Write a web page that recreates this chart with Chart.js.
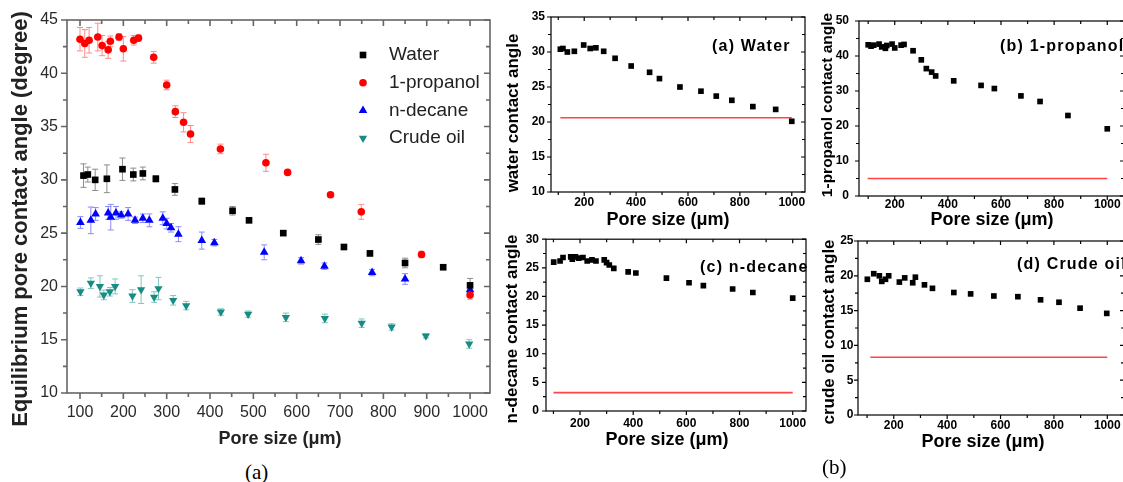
<!DOCTYPE html>
<html>
<head>
<meta charset="utf-8">
<script src="https://cdn.jsdelivr.net/npm/chart.js"></script>
<style>
html,body{margin:0;padding:0;background:#fff;}
body{width:1123px;height:482px;overflow:hidden;position:relative;}
canvas{position:absolute;}
.cap{position:absolute;font-family:'Liberation Serif','Times New Roman',serif;font-size:21px;line-height:24px;color:#000;white-space:nowrap;}
</style>
</head>
<body>
<canvas id="main" width="500" height="460" style="left:0;top:0"></canvas>
<canvas id="pa" width="315" height="235" style="left:500px;top:0"></canvas>
<canvas id="pb" width="320" height="235" style="left:815px;top:0"></canvas>
<canvas id="pc" width="315" height="235" style="left:500px;top:225px"></canvas>
<canvas id="pd" width="320" height="235" style="left:815px;top:225px"></canvas>
<div class="cap" style="left:245px;top:460px">(a)</div>
<div class="cap" style="left:822px;top:455px">(b)</div>
<script>
// data (pore size in um, angle in degree)
const waterX = [108, 118, 135, 162, 198, 223, 245, 275, 319, 381, 452, 490, 569, 650, 709, 769, 850, 938, 1000]
const waterY = [30.4, 30.5, 30.0, 30.1, 31.0, 30.5, 30.6, 30.1, 29.1, 28.0, 27.1, 26.2, 25.0, 24.4, 23.7, 23.1, 22.2, 21.8, 20.1]
const waterErr = [1.1, 0.7, 1.0, 1.3, 1.05, 0.6, 0.6, 0.3, 0.55, 0.3, 0.4, 0.2, 0.2, 0.45, 0.2, 0.25, 0.45, 0.2, 0.65]

const propX = [100, 111, 121, 141, 151, 165, 170, 190, 200, 224, 235, 270, 300, 320, 339, 355, 424, 529, 579, 678, 749, 888, 1000]
const propY = [43.2, 42.8, 43.1, 43.4, 42.6, 42.2, 43.0, 43.4, 42.3, 43.1, 43.3, 41.5, 38.9, 36.4, 35.4, 34.3, 32.9, 31.6, 30.7, 28.6, 27.0, 23.0, 19.2]
const propErr = [1.1, 1.3, 1.2, 1.3, 0.95, 0.8, 0.5, 0.3, 1.15, 0.45, 0.3, 0.55, 0.45, 0.55, 0.9, 0.8, 0.45, 0.8, 0.2, 0.2, 0.7, 0.3, 0.4]
const propPanelX = [100, 111, 121, 141, 151, 165, 170, 190, 200, 224, 235, 269, 300, 319, 339, 354, 422, 525, 575, 675, 747, 852, 1000]

const decX = [101, 125, 136, 165, 171, 183, 195, 211, 227, 245, 260, 291, 300, 310, 327, 381, 410, 525, 610, 664, 774, 850, 1000]
const decY = [26.0, 26.2, 26.8, 26.9, 26.5, 26.9, 26.7, 26.8, 26.2, 26.4, 26.2, 26.4, 25.9, 25.5, 24.9, 24.3, 24.1, 23.2, 22.4, 21.9, 21.3, 20.7, 19.7]
const decErr = [0.55, 1.25, 0.6, 0.6, 1.2, 0.6, 0.3, 0.6, 0.3, 0.4, 0.6, 0.6, 0.5, 0.4, 0.7, 0.8, 0.3, 0.7, 0.3, 0.3, 0.3, 0.5, 0.4]

const crudeX = [101, 125, 146, 155, 169, 181, 221, 241, 271, 281, 315, 345, 425, 488, 575, 665, 750, 819, 898, 998]
const crudeY = [19.5, 20.3, 20.0, 19.2, 19.5, 20.0, 19.1, 19.7, 19.0, 19.8, 18.7, 18.2, 17.6, 17.4, 17.1, 17.0, 16.55, 16.2, 15.35, 14.6]
const crudeErr = [0.35, 0.5, 1.0, 0.45, 0.4, 0.7, 0.6, 1.3, 0.5, 1.05, 0.45, 0.4, 0.3, 0.3, 0.4, 0.4, 0.4, 0.3, 0.2, 0.4]

// red reference levels of the small panels
const refWater = 20.6, refProp = 5.0, refDec = 3.2, refCrude = 8.3
const waterRefX = [108, 1000], propRefX = [98, 1000], decRefX = [100, 1000], crudeRefX = [112, 1000]

const mainXTicks = [100, 200, 300, 400, 500, 600, 700, 800, 900, 1000]
const mainYTicks = [10, 15, 20, 25, 30, 35, 40, 45]
const panelXTicks = [200, 400, 600, 800, 1000]
const waterYTicks = [10, 15, 20, 25, 30, 35]
const propYTicks = [0, 10, 20, 30, 40, 50]
const decYTicks = [0, 5, 10, 15, 20, 25, 30]
const crudeYTicks = [0, 5, 10, 15, 20, 25]

const SANS = "'Liberation Sans', Arial, sans-serif"
const toPts = (xs, ys) => xs.map((x, i) => ({x: x, y: ys[i]}))

// axis frame with ticks: outward on bottom/left, inward on top/right
const frame = {
  id: 'frame',
  afterDatasetsDraw(chart, args, o) {
    const {ctx, chartArea: a, scales: {x, y}} = chart
    ctx.save()
    ctx.strokeStyle = o.color
    ctx.lineWidth = o.width
    ctx.beginPath()
    const isMajor = (s, v) => s.ticks.some(t => Math.abs(t.value - v) < 1e-6)
    for (let v = Math.ceil(x.min / o.xMinor) * o.xMinor; v <= x.max + 1e-6; v += o.xMinor) {
      const px = x.getPixelForValue(v)
      const len = isMajor(x, v) ? o.major : o.minor
      ctx.moveTo(px, a.bottom); ctx.lineTo(px, a.bottom + len)
      ctx.moveTo(px, a.top); ctx.lineTo(px, a.top + len)
    }
    for (let v = Math.ceil(y.min / o.yMinor) * o.yMinor; v <= y.max + 1e-6; v += o.yMinor) {
      const py = y.getPixelForValue(v)
      const len = isMajor(y, v) ? o.major : o.minor
      ctx.moveTo(a.left, py); ctx.lineTo(a.left - len, py)
      ctx.moveTo(a.right, py); ctx.lineTo(a.right - len, py)
    }
    ctx.stroke()
    ctx.strokeRect(a.left, a.top, a.right - a.left, a.bottom - a.top)
    ctx.restore()
  }
}

const errBars = {
  id: 'errBars',
  beforeDatasetsDraw(chart) {
    const {ctx, scales: {x, y}} = chart
    chart.data.datasets.forEach(ds => {
      if (!ds.errors) return
      ctx.save()
      ctx.strokeStyle = ds.errColor
      ctx.lineWidth = 1
      ctx.beginPath()
      ds.data.forEach((p, i) => {
        const e = ds.errors[i]
        const px = x.getPixelForValue(p.x)
        const t = y.getPixelForValue(p.y + e), b = y.getPixelForValue(p.y - e)
        ctx.moveTo(px, t); ctx.lineTo(px, b)
        ctx.moveTo(px - 3, t); ctx.lineTo(px + 3, t)
        ctx.moveTo(px - 3, b); ctx.lineTo(px + 3, b)
      })
      ctx.stroke()
      ctx.restore()
    })
  }
}

const legendBox = {
  id: 'legendBox',
  afterDraw(chart, args, o) {
    if (!o || !o.show) return
    const ctx = chart.ctx
    ctx.save()
    ctx.font = o.font
    ctx.textBaseline = 'middle'
    chart.data.datasets.forEach((ds, i) => {
      const cy = o.y + i * o.row
      ctx.fillStyle = ds.pointBackgroundColor
      Chart.helpers.drawPoint(ctx, {pointStyle: ds.pointStyle, rotation: ds.pointRotation || 0, radius: ds.pointRadius, borderWidth: 0}, o.x, cy)
      ctx.fillStyle = o.color
      ctx.fillText(ds.label, o.textX, cy)
    })
    ctx.restore()
  }
}

// axis titles and panel label, drawn without width squeezing
const texts = {
  id: 'texts',
  afterDraw(chart, args, o) {
    const ctx = chart.ctx
    ctx.save()
    ctx.fillStyle = o.color
    ctx.textAlign = 'center'
    ctx.textBaseline = 'middle'
    ctx.font = o.xFont
    ctx.fillText('Pore size (μm)', o.xPos[0], o.xPos[1])
    if (o.label) {
      ctx.font = o.label.font
      ctx.textAlign = 'left'
      ctx.letterSpacing = '1.2px'
      ctx.fillText(o.label.text, o.label.pos[0], o.label.pos[1])
      ctx.letterSpacing = '0px'
      ctx.textAlign = 'center'
    }
    ctx.translate(o.yPos[0], o.yPos[1])
    ctx.rotate(-Math.PI / 2)
    ctx.font = o.yFont
    ctx.fillText(o.yText, 0, 0)
    ctx.restore()
  }
}

function makeChart(id, datasets, c) {
  const tickOpts = (pad) => ({autoSkip: false, maxRotation: 0, padding: pad, font: c.tickFont, color: c.tickColor, callback: v => String(v)})
  return new Chart(document.getElementById(id), {
    type: 'scatter',
    data: {datasets: datasets},
    options: {
      responsive: false,
      animation: false,
      devicePixelRatio: 1,
      layout: {padding: {top: c.padTop, right: c.padRight, left: 0, bottom: 0}},
      plugins: {
        legend: {display: false},
        tooltip: {enabled: false},
        frame: c.frame,
        legendBox: c.legend || {show: false},
        texts: c.texts
      },
      scales: {
        x: {
          type: 'linear', min: c.xRange[0], max: c.xRange[1],
          afterBuildTicks: s => { s.ticks = c.xTicks.map(v => ({value: v})) },
          afterFit: s => { s.height = c.xHeight },
          grid: {display: false, drawTicks: false},
          border: {display: false},
          ticks: tickOpts(c.xPad)
        },
        y: {
          type: 'linear', min: c.yRange[0], max: c.yRange[1],
          afterBuildTicks: s => { s.ticks = c.yTicks.map(v => ({value: v})) },
          afterFit: s => { s.width = c.yWidth },
          grid: {display: false, drawTicks: false},
          border: {display: false},
          ticks: tickOpts(c.yPad)
        }
      }
    },
    plugins: [errBars, frame, legendBox, texts]
  })
}

// (a) main chart
makeChart('main', [
  {label: 'Water', data: toPts(waterX, waterY), errors: waterErr, errColor: '#8c8c8c',
   pointStyle: 'rect', pointRadius: 4.7, pointBackgroundColor: '#000', pointBorderWidth: 0},
  {label: '1-propanol', data: toPts(propX, propY), errors: propErr, errColor: '#ff8a8a',
   pointStyle: 'circle', pointRadius: 3.8, pointBackgroundColor: '#ff0000', pointBorderWidth: 0},
  {label: 'n-decane', data: toPts(decX, decY), errors: decErr, errColor: '#8a8aff',
   pointStyle: 'triangle', pointRadius: 5, pointBackgroundColor: '#0000ff', pointBorderWidth: 0},
  {label: 'Crude oil', data: toPts(crudeX, crudeY), errors: crudeErr, errColor: '#84c6c0',
   pointStyle: 'triangle', pointRotation: 180, pointRadius: 4.8, pointBackgroundColor: '#178c84', pointBorderWidth: 0}
], {
  xRange: [70, 1046], yRange: [10, 45], xTicks: mainXTicks, yTicks: mainYTicks,
  padTop: 20, padRight: 10, yWidth: 67, xHeight: 67, xPad: 10, yPad: 9,
  tickFont: {family: SANS, size: 16}, tickColor: '#2a2a2a',
  frame: {color: '#666', width: 1.6, major: 6, minor: 4, xMinor: 50, yMinor: 2.5},
  legend: {show: true, x: 363, textX: 389, y: 55, row: 27.7, font: '19px ' + SANS, color: '#222'},
  texts: {color: '#222', xFont: 'bold 18px ' + SANS, xPos: [280, 439],
          yFont: 'bold 22px ' + SANS, yPos: [20.5, 219], yText: 'Equilibrium pore contact angle (degree)'}
})

// (b) small panels
function panel(id, left, top, xs, ys, refY, refX, c) {
  const ds = [
    {data: toPts(xs, ys), pointStyle: 'rect', pointRadius: 4, pointBackgroundColor: '#000', pointBorderWidth: 0},
    {data: [{x: refX[0], y: refY}, {x: refX[1], y: refY}], showLine: true, pointRadius: 0,
     borderColor: '#ff4545', borderWidth: 1.6}
  ]
  const t = c.texts
  t.xPos = [t.xPos[0] - left, t.xPos[1] - top]
  t.yPos = [t.yPos[0] - left, t.yPos[1] - top]
  t.label.pos = [t.label.pos[0] - left, t.label.pos[1] - top]
  t.color = '#000'
  t.xFont = 'bold 18px ' + SANS
  t.label.font = 'bold 16px ' + SANS
  c.tickFont = {family: SANS, size: 12, weight: 'bold'}
  c.tickColor = '#000'
  c.xTicks = panelXTicks
  c.frame = {color: '#000', width: 1.2, major: 4, minor: 3, xMinor: 100, yMinor: c.yMinor}
  return makeChart(id, ds, c)
}

panel('pa', 500, 0, waterX, waterY, refWater, waterRefX, {
  xRange: [72, 1051], yRange: [10, 35], yTicks: waterYTicks, yMinor: 2.5,
  padTop: 17, padRight: 10, yWidth: 51, xHeight: 43, xPad: 3, yPad: 6,
  texts: {xPos: [668, 220], yPos: [513, 113], yFont: 'bold 17px ' + SANS, yText: 'water contact angle',
          label: {text: '(a) Water', pos: [712, 47]}}
})
panel('pb', 815, 0, propPanelX, propY, refProp, propRefX, {
  xRange: [65.5, 1063], yRange: [0, 50], yTicks: propYTicks, yMinor: 5,
  padTop: 21, padRight: 11, yWidth: 44, xHeight: 39, xPad: 1, yPad: 10,
  texts: {xPos: [992, 220], yPos: [828, 105], yFont: 'bold 15.5px ' + SANS, yText: '1-propanol contact angle',
          label: {text: '(b) 1-propanol', pos: [1000, 47]}}
})
panel('pc', 500, 225, decX, decY, refDec, decRefX, {
  xRange: [72, 1050], yRange: [0, 30], yTicks: decYTicks, yMinor: 2.5,
  padTop: 14, padRight: 9, yWidth: 46, xHeight: 49, xPad: 5, yPad: 7,
  texts: {xPos: [667, 440.5], yPos: [512, 329], yFont: 'bold 17px ' + SANS, yText: 'n-decane contact angle',
          label: {text: '(c) n-decane', pos: [700, 268]}}
})
panel('pd', 815, 225, crudeX, crudeY, refCrude, crudeRefX, {
  xRange: [66, 1062.6], yRange: [0, 25], yTicks: crudeYTicks, yMinor: 2.5,
  padTop: 16, padRight: 11, yWidth: 43, xHeight: 45, xPad: 3, yPad: 4.5,
  texts: {xPos: [983, 442.5], yPos: [829, 332], yFont: 'bold 17px ' + SANS, yText: 'crude oil contact angle',
          label: {text: '(d) Crude oil', pos: [1017, 265]}}
})
</script>
</body>
</html>
